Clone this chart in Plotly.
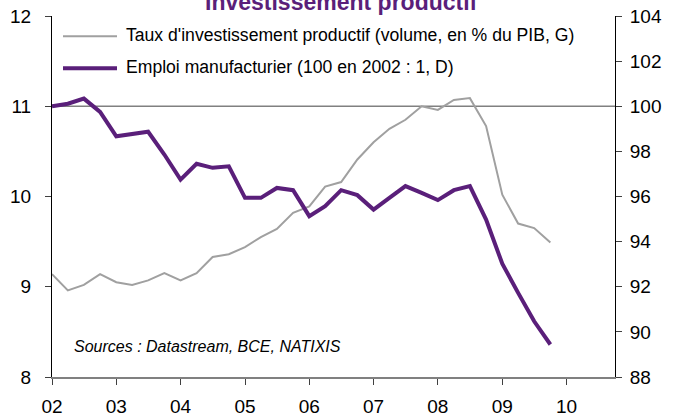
import pandas as pd
import plotly.graph_objects as go

# ---- data ----
quarters = pd.date_range(start="2002-01-01", periods=32, freq="QS").strftime("%Y-%m-%d").tolist()

taux_invest = [9.14, 8.96, 9.02, 9.14,
               9.05, 9.02, 9.07, 9.15,
               9.07, 9.15, 9.33, 9.36,
               9.44, 9.55, 9.64, 9.82,
               9.89, 10.11, 10.16, 10.41,
               10.60, 10.75, 10.85, 11.00,
               10.96, 11.07, 11.09, 10.78,
               10.02, 9.70, 9.65, 9.49]

emploi_manuf = [100.00, 100.11, 100.34, 99.75,
                98.67, 98.78, 98.87, 97.86,
                96.75, 97.45, 97.27, 97.34,
                95.94, 95.94, 96.38, 96.28,
                95.13, 95.57, 96.28, 96.06,
                95.42, 95.94, 96.46, 96.16,
                95.84, 96.28, 96.46, 94.98,
                93.02, 91.73, 90.47, 89.44]

year_ticks = ["2002-01-01", "2003-01-01", "2004-01-01", "2005-01-01", "2006-01-01",
              "2007-01-01", "2008-01-01", "2009-01-01", "2010-01-01"]
year_labels = ["02", "03", "04", "05", "06", "07", "08", "09", "10"]

name_invest = "Taux d'investissement productif (volume, en % du PIB, G)"
name_emploi = "Emploi manufacturier (100 en 2002 : 1, D)"
title_text = "Investissement productif"
source_text = "Sources : Datastream, BCE, NATIXIS"

PURPLE = "#5A1F7A"
GRAY_LINE = "#A0A0A0"
GRID_GRAY = "#808080"
FONT = "Liberation Sans, Arial, sans-serif"

fig = go.Figure()
fig.add_trace(go.Scatter(x=quarters, y=taux_invest, mode="lines", name=name_invest,
                         line=dict(color=GRAY_LINE, width=2), yaxis="y"))
fig.add_trace(go.Scatter(x=quarters, y=emploi_manuf, mode="lines", name=name_emploi,
                         line=dict(color=PURPLE, width=4), yaxis="y2"))

# plot area geometry (pixels)
L, R, T, B = 52, 615, 16.5, 377.5
W, H = R - L, B - T

def px(x):
    return (x - L) / W

def py(y):
    return (B - y) / H

tickfont = dict(size=19, family=FONT, color="black")

fig.update_layout(
    width=682, height=418,
    margin=dict(l=52, r=67, t=16, b=41, pad=0, autoexpand=False),
    paper_bgcolor="white", plot_bgcolor="white",
    showlegend=False,
    font=dict(family=FONT, color="black"),
    xaxis=dict(type="date", range=["2002-01-01", "2010-10-03"],
               tickvals=year_ticks, ticktext=year_labels, automargin=False,
               showgrid=False, zeroline=False,
               showline=True, linecolor=GRID_GRAY, linewidth=2,
               ticks="outside", ticklen=6, tickcolor="#404040", tickwidth=1,
               tickfont=tickfont, ticklabelstandoff=5),
    yaxis=dict(range=[8, 12], dtick=1, tick0=8, automargin=False,
               showgrid=False, zeroline=False,
               showline=True, linecolor="black", linewidth=1,
               ticks="outside", ticklen=6, tickcolor="#404040",
               tickfont=tickfont, ticklabelstandoff=10),
    yaxis2=dict(range=[88, 104], dtick=2, tick0=88, overlaying="y", side="right",
                automargin=False,
                showgrid=False, zeroline=False,
                showline=True, linecolor="black", linewidth=1,
                ticks="outside", ticklen=6, tickcolor="#404040",
                tickfont=tickfont, ticklabelstandoff=4),
)

shapes = [
    # reference line at 100 (= 11 on left axis)
    dict(type="line", xref="paper", yref="y2", x0=0, x1=1, y0=100, y1=100,
         line=dict(color=GRID_GRAY, width=1.5), layer="below"),
    # legend samples
    dict(type="line", xref="paper", yref="paper", x0=px(63), x1=px(117), y0=py(36.7), y1=py(36.7),
         line=dict(color=GRAY_LINE, width=2)),
    dict(type="line", xref="paper", yref="paper", x0=px(63), x1=px(117), y0=py(68.7), y1=py(68.7),
         line=dict(color=PURPLE, width=4)),
]
fig.update_layout(shapes=shapes)

annotations = [
    dict(text=name_invest, xref="paper", yref="paper", x=px(124), y=py(35.5),
         xanchor="left", yanchor="middle", showarrow=False,
         font=dict(size=17.6, family=FONT, color="black")),
    dict(text=name_emploi, xref="paper", yref="paper", x=px(124), y=py(68),
         xanchor="left", yanchor="middle", showarrow=False,
         font=dict(size=17.6, family=FONT, color="black")),
    dict(text="<i>" + source_text + "</i>", xref="paper", yref="paper", x=px(72), y=py(346.5),
         xanchor="left", yanchor="middle", showarrow=False,
         font=dict(size=16, family=FONT, color="black")),
    dict(text="<b>" + title_text + "</b>", xref="paper", yref="paper", x=px(341.5), y=py(2),
         xanchor="center", yanchor="middle", showarrow=False,
         font=dict(size=23, family=FONT, color=PURPLE)),
]
fig.update_layout(annotations=annotations)

fig.write_html("out.html", config={"displayModeBar": False},
               post_script="document.body.style.margin='0';document.body.style.padding='0';")
